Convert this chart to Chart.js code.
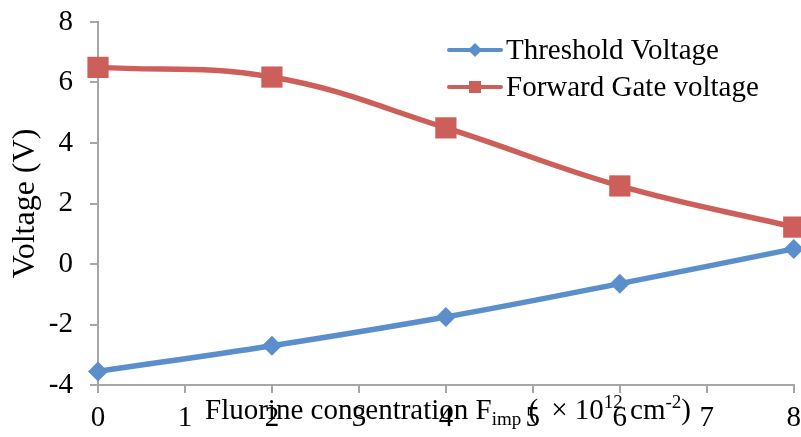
<!DOCTYPE html>
<html lang="en">
    <head>
        <meta charset="UTF-8" />
        <title>Voltage vs fluorine concentration</title>
        <script src="https://cdn.jsdelivr.net/npm/chart.js"></script>
        <style>
            html, body { margin: 0; padding: 0; background: #fff; overflow: hidden; }
            /* a bit wider than the window so the plot reaches the right edge like the original */
            #wrap { width: 809px; height: 437px; }
        </style>
    </head>
    <body>
        <div id="wrap"><canvas id="grafico"></canvas></div>

        <script>
            // Data
            const concentration = [0, 2, 4, 6, 8];
            const thresholdVoltage = [-3.55, -2.7, -1.75, -0.65, 0.5];
            const forwardGateVoltage = [6.5, 6.18, 4.5, 2.58, 1.22];
            const seriesNames = ["Threshold Voltage", "Forward Gate voltage"];

            const BLUE = "#5a8fcb";
            const RED = "#cd5f5a";
            const AXIS = "#a6a6a6";
            const FONT = "'Liberation Serif', 'Times New Roman', serif";

            const toPoints = (ys) => concentration.map((x, i) => ({ x: x, y: ys[i] }));

            // x axis title with sub/superscripts, drawn over the tick labels
            const xTitlePlugin = {
                id: "xTitle",
                afterDraw(chart) {
                    const ctx = chart.ctx;
                    const parts = [
                        { t: "Fluorine concentration F", s: 29, dy: 0 },
                        { t: "imp", s: 19, dy: 6 },
                        { t: " (\u2009 \u00d7 10", s: 29, dy: 0 },
                        { t: "12", s: 19, dy: -11 },
                        { t: " cm", s: 29, dy: 0 },
                        { t: "-2", s: 19, dy: -11 },
                        { t: ")", s: 29, dy: 0 },
                    ];
                    ctx.save();
                    ctx.fillStyle = "#000";
                    ctx.textBaseline = "alphabetic";
                    ctx.textAlign = "left";
                    let total = 0;
                    parts.forEach((p) => {
                        ctx.font = p.s + "px " + FONT;
                        p.w = ctx.measureText(p.t).width;
                        total += p.w;
                    });
                    let x = 448 - total / 2;
                    const base = 419;
                    parts.forEach((p) => {
                        ctx.font = p.s + "px " + FONT;
                        ctx.fillText(p.t, x, base + p.dy);
                        x += p.w;
                    });
                    ctx.restore();
                },
            };

            // legend inside the plot, line + marker like the original
            const legendPlugin = {
                id: "innerLegend",
                afterDraw(chart) {
                    const ctx = chart.ctx;
                    const rows = [
                        { name: seriesNames[0], color: BLUE, shape: "diamond", y: 50 },
                        { name: seriesNames[1], color: RED, shape: "square", y: 87 },
                    ];
                    ctx.save();
                    rows.forEach((r) => {
                        ctx.strokeStyle = r.color;
                        ctx.lineWidth = 4;
                        ctx.lineCap = "round";
                        ctx.beginPath();
                        ctx.moveTo(449, r.y);
                        ctx.lineTo(501, r.y);
                        ctx.stroke();
                        ctx.fillStyle = r.color;
                        ctx.beginPath();
                        if (r.shape === "diamond") {
                            ctx.moveTo(475, r.y - 7);
                            ctx.lineTo(482, r.y);
                            ctx.lineTo(475, r.y + 7);
                            ctx.lineTo(468, r.y);
                        } else {
                            ctx.rect(469, r.y - 6, 12, 12);
                        }
                        ctx.closePath();
                        ctx.fill();
                        ctx.fillStyle = "#000";
                        ctx.font = "29px " + FONT;
                        ctx.textBaseline = "middle";
                        ctx.fillText(r.name, 506, r.y + 1);
                    });
                    ctx.restore();
                },
            };

            const ctx = document.getElementById("grafico").getContext("2d");
            const chart = new Chart(ctx, {
                type: "line",
                data: {
                    datasets: [
                        {
                            label: seriesNames[0],
                            data: toPoints(thresholdVoltage),
                            borderColor: BLUE,
                            backgroundColor: BLUE,
                            borderWidth: 5.5,
                            pointStyle: "rectRot",
                            pointRadius: 10,
                            pointHoverRadius: 10,
                            pointBorderWidth: 0,
                            tension: 0.4,
                            clip: false,
                        },
                        {
                            label: seriesNames[1],
                            data: toPoints(forwardGateVoltage),
                            borderColor: RED,
                            backgroundColor: RED,
                            borderWidth: 5.5,
                            pointStyle: "rect",
                            pointRadius: 15,
                            pointHoverRadius: 15,
                            pointBorderWidth: 0,
                            tension: 0.4,
                            clip: false,
                        },
                    ],
                },
                options: {
                    responsive: true,
                    maintainAspectRatio: false,
                    animation: false,
                    layout: { padding: { top: 22, right: 0, left: 0, bottom: 0 } },
                    plugins: {
                        legend: { display: false },
                        tooltip: { enabled: false },
                    },
                    scales: {
                        x: {
                            type: "linear",
                            min: 0,
                            max: 8,
                            ticks: {
                                stepSize: 1,
                                color: "#000",
                                font: { family: FONT, size: 29 },
                                padding: 8,
                                maxRotation: 0,
                            },
                            grid: {
                                drawOnChartArea: false,
                                color: AXIS,
                                tickLength: 8,
                                lineWidth: 2,
                            },
                            border: { color: AXIS, width: 2 },
                            afterFit(scale) {
                                scale.height = 52;
                            },
                        },
                        y: {
                            min: -4,
                            max: 8,
                            ticks: {
                                stepSize: 2,
                                color: "#000",
                                font: { family: FONT, size: 29 },
                                padding: 17,
                            },
                            grid: {
                                drawOnChartArea: false,
                                color: AXIS,
                                tickLength: 8,
                                lineWidth: 2,
                            },
                            border: { color: AXIS, width: 2 },
                            title: {
                                display: true,
                                text: "Voltage (V)",
                                color: "#000",
                                font: { family: FONT, size: 32 },
                                padding: { top: 6, bottom: 0 },
                            },
                            afterFit(scale) {
                                scale.width = 98;
                                scale.paddingTop = 0;
                                scale.paddingBottom = 0;
                            },
                        },
                    },
                },
                plugins: [xTitlePlugin, legendPlugin],
            });
        </script>
    </body>
</html>
